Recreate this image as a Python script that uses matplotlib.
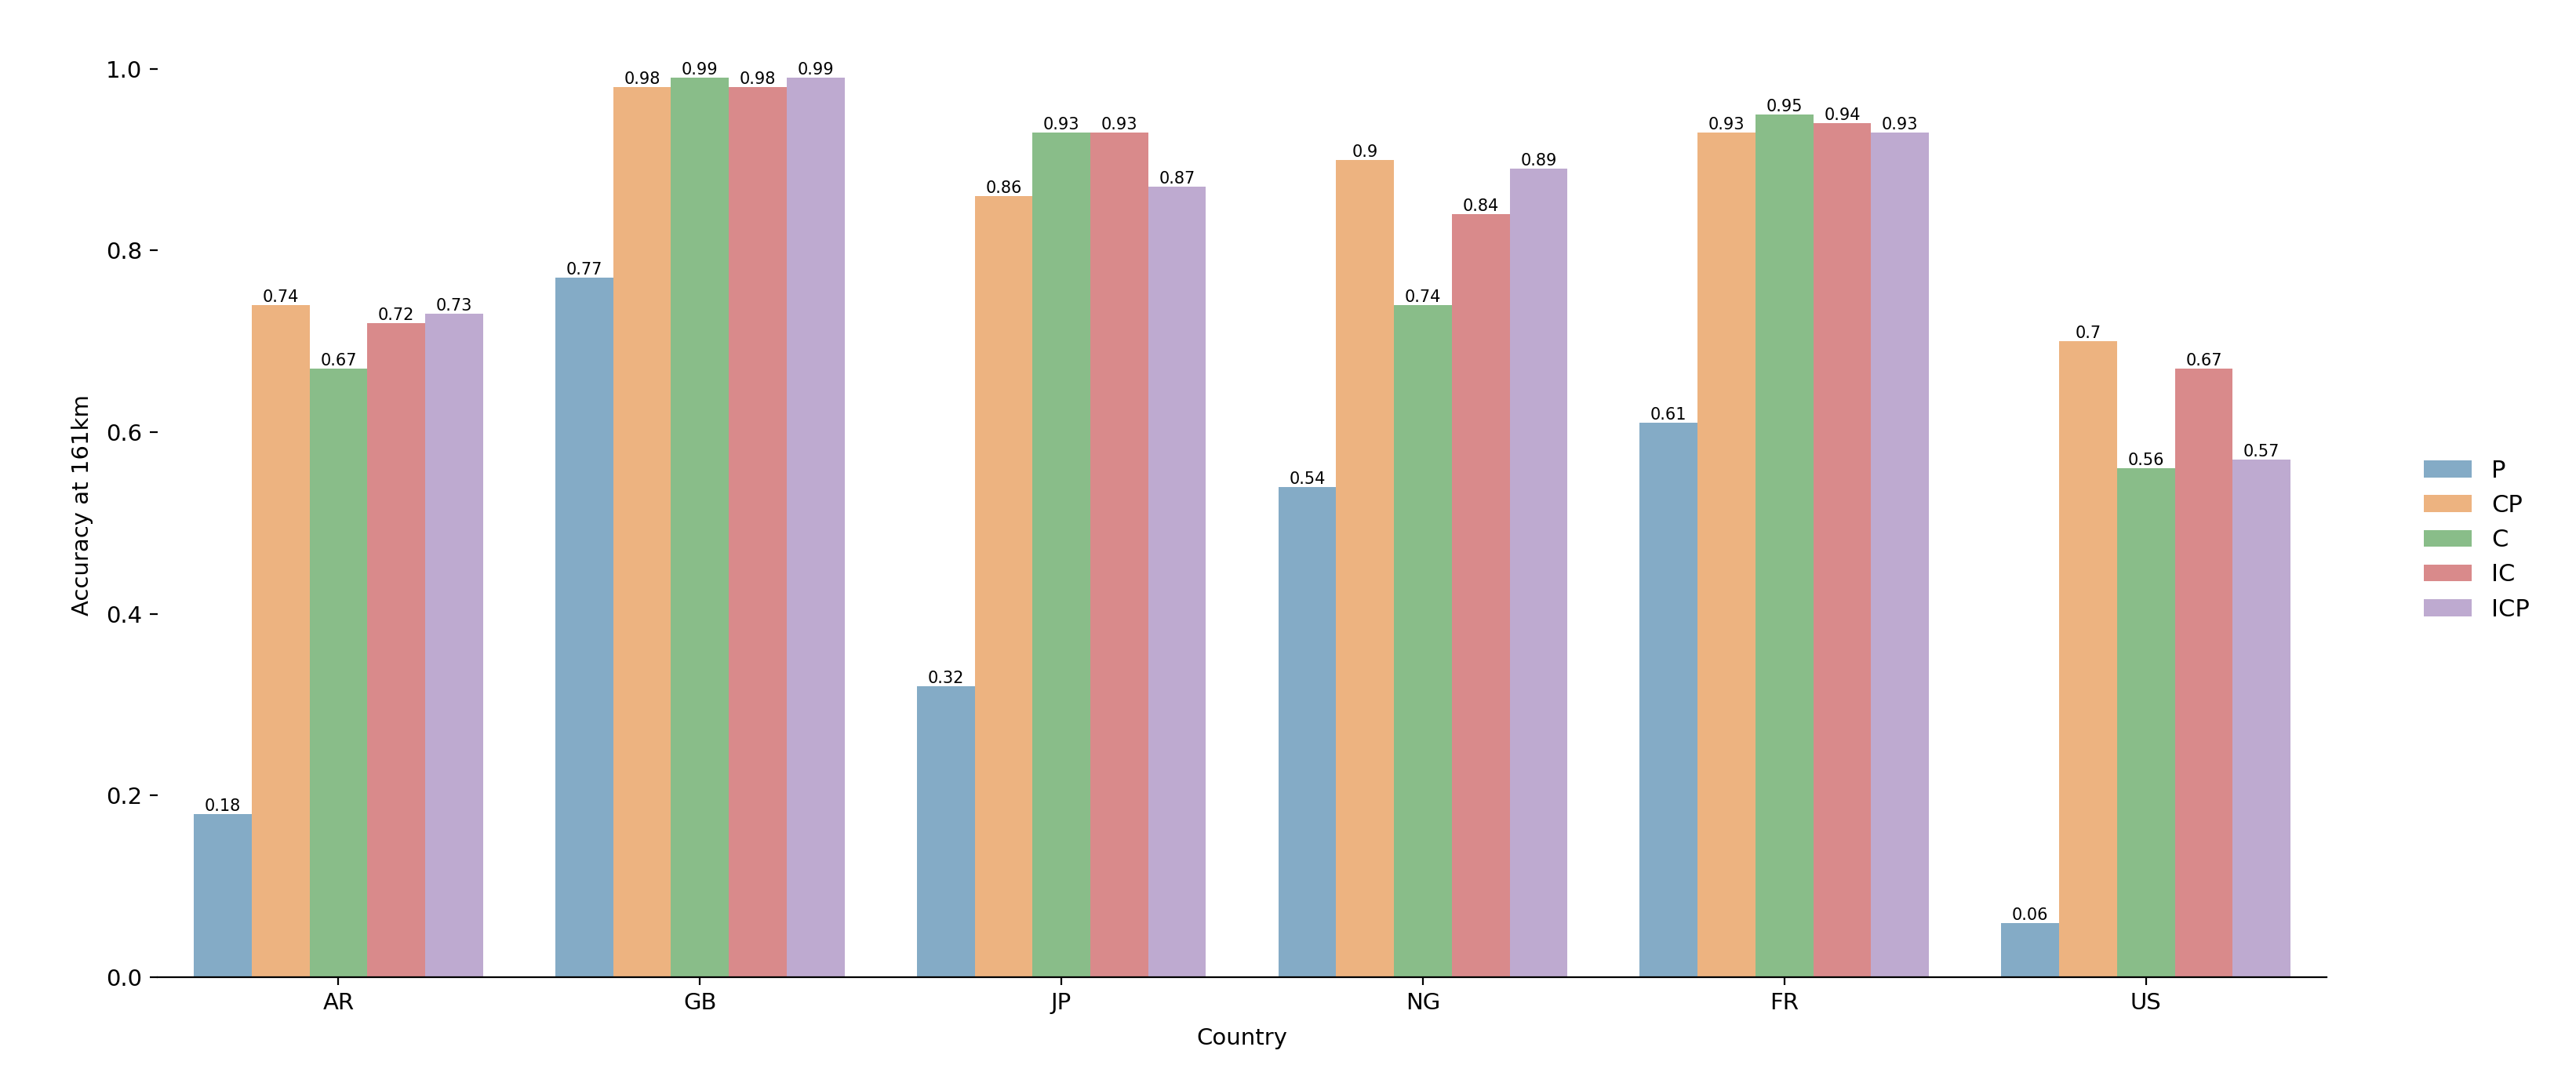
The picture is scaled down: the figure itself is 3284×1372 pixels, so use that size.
import matplotlib
matplotlib.use('Agg')
import matplotlib.pyplot as plt
import seaborn as sns
import pandas as pd

countries = ['AR', 'GB', 'JP', 'NG', 'FR', 'US']
methods = ['P', 'CP', 'C', 'IC', 'ICP']

acc_p = [0.18, 0.77, 0.32, 0.54, 0.61, 0.06]
acc_cp = [0.74, 0.98, 0.86, 0.9, 0.93, 0.7]
acc_c = [0.67, 0.99, 0.93, 0.74, 0.95, 0.56]
acc_ic = [0.72, 0.98, 0.93, 0.84, 0.94, 0.67]
acc_icp = [0.73, 0.99, 0.87, 0.89, 0.93, 0.57]

series = {'P': acc_p, 'CP': acc_cp, 'C': acc_c, 'IC': acc_ic, 'ICP': acc_icp}
rows = []
for m in methods:
    for c, v in zip(countries, series[m]):
        rows.append({'Country': c, 'Method': m, 'Accuracy': v})
df = pd.DataFrame(rows)

plt.rcParams['font.family'] = ['DejaVu Sans']
fig = plt.figure(figsize=(16.42, 6.86), dpi=200)
ax = fig.add_axes([0.0612, 0.0918, 0.842, 0.8776])

sns.barplot(data=df, x='Country', y='Accuracy', hue='Method', order=countries,
            hue_order=methods, palette='tab10', alpha=0.6, ax=ax, errorbar=None)

for cont in ax.containers:
    ax.bar_label(cont, fontsize=7.5)

ax.set_ylabel('Accuracy at 161km', fontsize=10.5, labelpad=6)
ax.set_xlabel('Country', fontsize=10.5, labelpad=6)
ax.tick_params(labelsize=10.5)
ax.set_xlim(-0.5, 5.5)
ax.set_ylim(0, 1.0395)
sns.despine(ax=ax, left=True)

handles, labels = ax.get_legend_handles_labels()
ax.legend(handles, labels, loc='center left', bbox_to_anchor=(1.035, 0.463),
          frameon=False, fontsize=11)

fig.savefig('out.png', dpi=200)
